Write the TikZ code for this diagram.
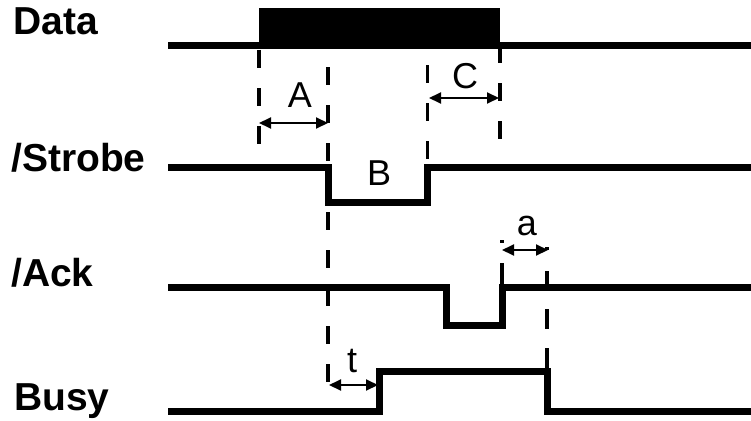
\documentclass[tikz,border=0pt]{standalone}
\usepackage{fontspec}
\setmainfont{Liberation Sans}
\usetikzlibrary{arrows.meta}
\tikzset{
  sig/.style={line width=7pt, line join=miter, line cap=butt},
  guide/.style={line width=3.5pt, dash pattern=on 18pt off 20pt},
  dim/.style={line width=2pt, {Triangle[length=12pt,width=11pt]}-{Triangle[length=12pt,width=11pt]}, shorten <=0pt, shorten >=0pt},
  sname/.style={anchor=base west, inner sep=0pt, font=\fontsize{39}{44}\selectfont\bfseries},
  tlabel/.style={anchor=base, inner sep=0pt, font=\fontsize{36}{40}\selectfont},
}
\begin{document}
\begin{tikzpicture}[x=1pt,y=-1pt]
\useasboundingbox (0,0) rectangle (751,420);
% signal names
\node[sname] (nData) at (13,35) {Data};
\node[sname] (nStrobe) at (11,171) {/Strobe};
\node[sname] (nAck) at (11,286) {/Ack};
\node[sname] (nBusy) at (14,410) {Busy};
% Data
\fill (259,8) rectangle (500,49);
\draw[sig] (168,45.8) -- (751,45.8);
% Strobe
\draw[sig] (168,167.5) -- (328,167.5) -- (328,202.5) -- (427.5,202.5) -- (427.5,167.5) -- (751,167.5);
% Ack
\draw[sig] (168,287.5) -- (446,287.5) -- (446,325.5) -- (502,325.5) -- (502,287.5) -- (751,287.5);
% Busy
\draw[sig] (168,411) -- (379,411) -- (379,371.5) -- (547.5,371.5) -- (547.5,411) -- (751,411);
% guide lines
\coordinate (g1a) at (259,50);  \coordinate (g1b) at (259,145);
\coordinate (g2a) at (328,67);  \coordinate (g2b) at (328,164);
\coordinate (g2c) at (328,212); \coordinate (g2d) at (328,385);
\coordinate (g3a) at (427.5,65);  \coordinate (g3b) at (427.5,164);
\coordinate (g4a) at (500,45);  \coordinate (g4b) at (500,140);
\coordinate (g5a) at (502,240); \coordinate (g5b) at (502,287);
\coordinate (g6a) at (547,247); \coordinate (g6b) at (547,371);
\draw[guide] (g1a) -- (g1b);
\draw[guide] (g2a) -- (g2b);
\draw[guide] (g2c) -- (g2d);
\draw[guide] (g3a) -- (g3b);
\draw[guide] (g4a) -- (g4b);
\draw[line width=3.5pt, dash pattern=on 3pt off 20pt on 30pt] (g5a) -- (g5b);
\draw[line width=3.5pt, dash pattern=on 3pt off 21pt on 19pt off 19pt on 20pt off 19pt on 24pt] (g6a) -- (g6b);
% dimension arrows
\coordinate (dA1) at (259,123); \coordinate (dA2) at (328,123);
\coordinate (dC1) at (429,98);  \coordinate (dC2) at (499,98);
\coordinate (da1) at (502,250); \coordinate (da2) at (548,250);
\coordinate (dt1) at (329,385); \coordinate (dt2) at (378,385);
\draw[dim] (dA1) -- (dA2);
\draw[dim] (dC1) -- (dC2);
\draw[dim] (da1) -- (da2);
\draw[dim] (dt1) -- (dt2);
% labels
\node[tlabel] (lA) at (300,107) {A};
\node[tlabel] (lB) at (379,185) {B};
\node[tlabel] (lC) at (465,88) {C};
\node[tlabel] (la) at (527,235) {a};
\node[tlabel] (lt) at (352,372) {t};
\end{tikzpicture}
\end{document}
